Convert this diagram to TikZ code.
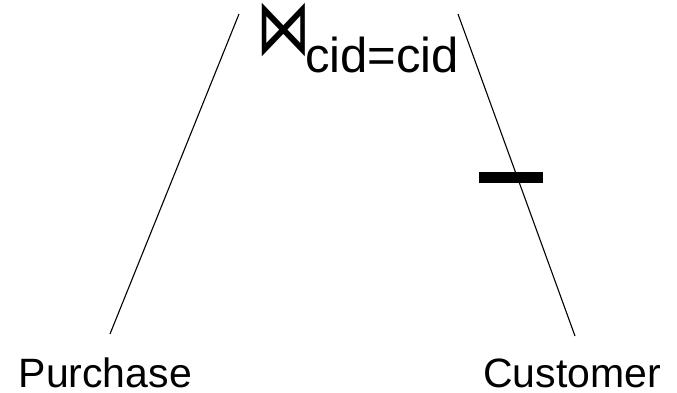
\documentclass[tikz,border=0pt]{standalone}
\usepackage{fontspec}
\usepackage{graphicx}
\setmainfont{Liberation Sans}
\newfontfamily\symfont{DejaVu Sans}
\begin{document}
\begin{tikzpicture}[x=1pt,y=-1pt,
  lbl/.style={inner sep=0pt,font=\fontsize{41}{46}\selectfont},
  sub/.style={inner sep=0pt,font=\fontsize{49}{54}\selectfont},
  edge/.style={line width=1.1pt},
  selbar/.style={fill=black,draw=none,minimum width=64pt,minimum height=11pt,inner sep=0pt}]
\useasboundingbox (0,0) rectangle (677,392);
\node[inner sep=0pt] (join) at (284,30) {\scalebox{1.05}[1.5]{\symfont\fontsize{52}{52}\selectfont ⋈}};
\node[sub,anchor=base west] (cond) at (305,72) {cid=cid};
\node[lbl,anchor=base west] (purchase) at (18.5,387) {Purchase};
\node[lbl,anchor=base west] (customer) at (483,387) {Customer};
\node[selbar] (sel) at (511,177) {};
\coordinate (lt) at (239,14);
\coordinate (lb) at (110,334);
\coordinate (rt) at (458,14);
\coordinate (rb) at (575,336);
\draw[edge] (lt) -- (lb);
\draw[edge] (rt) -- (rb);
\end{tikzpicture}
\end{document}
